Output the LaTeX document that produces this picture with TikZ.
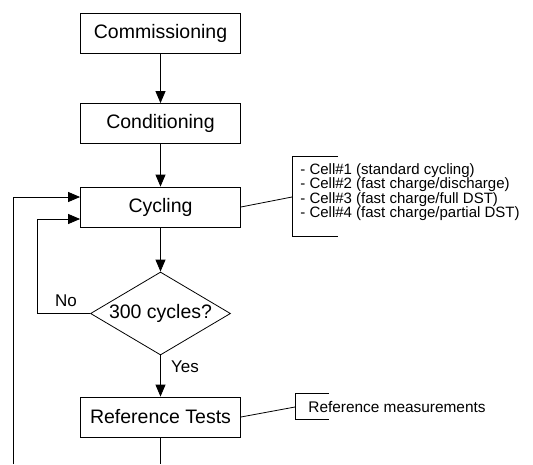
\documentclass[tikz,border=0pt]{standalone}
\usepackage{fontspec}
\setmainfont{Liberation Sans}
\usetikzlibrary{shapes.geometric,arrows.meta,calc}
\begin{document}
\begin{tikzpicture}[x=1pt,y=-1pt,
  line width=0.8pt,
  stepbox/.style={draw,minimum width=160pt,minimum height=40pt,inner sep=0pt,font=\fontsize{19.5}{22}\selectfont},
  decbox/.style={draw,diamond,aspect=1.69,inner sep=0pt,minimum width=140pt,minimum height=83pt,font=\fontsize{19.5}{22}\selectfont},
  arr/.style={-{Triangle[width=10pt,length=12pt]}},
  lbl/.style={font=\fontsize{17}{20}\selectfont,inner sep=0pt},
  note/.style={font=\fontsize{15}{14.3}\selectfont,align=left,inner sep=0pt,anchor=west},
]
\useasboundingbox (0,0) rectangle (533,464);
\node[stepbox] (comm) at (160.5,33) {Commissioning};
\node[stepbox] (cond) at (160.5,123.5) {Conditioning};
\node[stepbox] (cyc) at (160.5,207) {Cycling};
\node[decbox] (dec) at (160.5,313.5) {300 cycles?};
\node[stepbox] (ref) at (160.5,417) {Reference Tests};

\draw[arr] (comm) -- (cond);
\draw[arr] (cond) -- (cyc);
\draw[arr] (cyc) -- (dec);
\draw[arr] (dec) -- (ref);
\node[lbl] (yes) at (185,367) {Yes};

% No loop
\coordinate (cinA) at ($(cyc.west)+(0,12)$);
\draw[arr] (dec.west) -- (37,313.5) |- (cinA);
\node[lbl] (no) at (66,301) {No};

% outer loop
\coordinate (bl) at (13,464);
\coordinate (cinB) at ($(cyc.west)+(0,-10)$);
\draw[arr] (bl) |- (cinB);
\coordinate (rb) at (160.5,464);
\draw (ref) -- (rb);

% cycling note
\coordinate (b1) at (292,197);
\draw (cyc.east) -- (b1);
\draw (338,156) -- (292,156) -- (292,236) -- (338,236);
\node[note] (cyctxt) at (300,192) {- Cell\#1 (standard cycling)\\- Cell\#2 (fast charge/discharge)\\- Cell\#3 (fast charge/full DST)\\- Cell\#4 (fast charge/partial DST)};

% reference note
\coordinate (b2) at (295,407);
\draw (ref.east) -- (b2);
\draw (329,393) -- (295,393) -- (295,419) -- (329,419);
\node[note,font=\fontsize{15.4}{16}\selectfont] (reftxt) at (308,407) {Reference measurements};
\end{tikzpicture}
\end{document}
